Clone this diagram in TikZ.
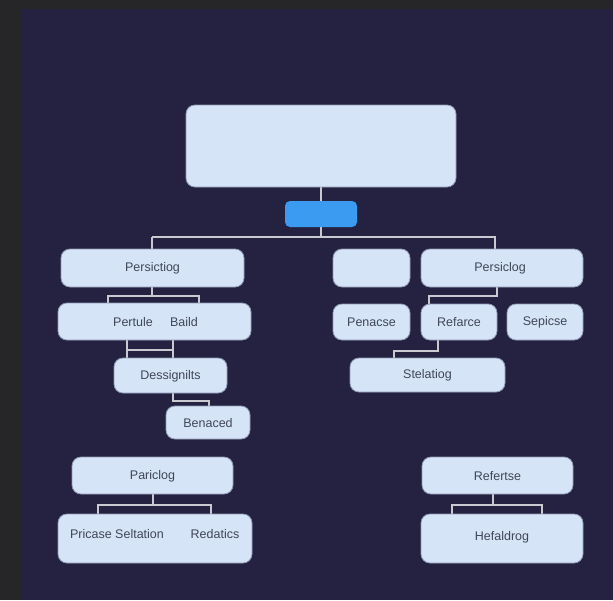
\documentclass[tikz,border=0pt]{standalone}
\usepackage{fontspec}
\setmainfont{Liberation Sans}
\definecolor{outerbg}{HTML}{262628}
\definecolor{panel}{HTML}{242240}
\definecolor{boxfill}{HTML}{D6E4F7}
\definecolor{boxedge}{HTML}{8E9AB4}
\definecolor{boxtext}{HTML}{3F4658}
\definecolor{linec}{HTML}{C9C9D2}
\definecolor{bluefill}{HTML}{3B9BF0}
\tikzset{
  card/.style={draw=boxedge, line width=0.8pt, fill=boxfill, rounded corners=9pt},
  bluecard/.style={fill=bluefill, rounded corners=5pt},
  lbl/.style={text=boxtext, font=\fontsize{12.5}{14}\selectfont, inner sep=0pt, anchor=center},
  conn/.style={draw=linec, line width=1.6pt}
}
\begin{document}
\begin{tikzpicture}[x=1pt,y=-1pt]
\useasboundingbox (0,0) rectangle (613,600);
\fill[outerbg] (0,0) rectangle (613,600);
\fill[panel] (22,9) rectangle (613,600);

% connectors first (behind boxes)
\coordinate (topb) at (321,187);
\coordinate (bluet) at (321,201);
\coordinate (blueb) at (321,227);
\coordinate (hbar) at (321,237);
\coordinate (hl) at (152,237);
\coordinate (hr) at (495,237);
\draw[conn] (topb) -- (bluet);
\draw[conn] (blueb) -- (hbar);
\draw[conn] (hl) -- (152,249);
\draw[conn] (hl) -- (hr) -- (495,249);

% left branch
\draw[conn] (152,287) -- (152,296);
\draw[conn] (108,303) -- (108,296) -- (199,296) -- (199,303);
\draw[conn] (127,340) -- (127,358);
\draw[conn] (173,340) -- (173,358);
\draw[conn] (127,350) -- (173,350);
\draw[conn] (173,393) -- (173,401) -- (209,401) -- (209,406);

% right branch
\draw[conn] (497,287) -- (497,296) -- (429,296) -- (429,304);
\draw[conn] (438,340) -- (438,351) -- (394,351) -- (394,358);

% bottom left
\draw[conn] (153,494) -- (153,505);
\draw[conn] (98,514) -- (98,505) -- (211,505) -- (211,514);

% bottom right
\draw[conn] (493,494) -- (493,505);
\draw[conn] (452,514) -- (452,505) -- (542,505) -- (542,514);

% boxes
\path[card] (186,105) rectangle (456,187);
\node[coordinate] (top) at (321,146) {};
\path[bluecard] (285,201) rectangle (357,227);
\node[coordinate] (blue) at (321,214) {};

\path[card] (61,249) rectangle (244,287);
\node[lbl] (pers1) at (152.5,268.5) {Persictiog};

\path[card] (58,303) rectangle (251,340);
\node[lbl] (pert) at (133,322.5) {Pertule};
\node[lbl] (baild) at (184,322.5) {Baild};

\path[card] (114,358) rectangle (227,393);
\node[lbl] (dess) at (170.5,376) {Dessignilts};

\path[card] (166,406) rectangle (250,439);
\node[lbl] (ben) at (208,423) {Benaced};

\path[card] (333,249) rectangle (410,287);
\node[coordinate] (empty) at (371.5,268) {};

\path[card] (421,249) rectangle (583,287);
\node[lbl] (pers2) at (500,268.5) {Persiclog};

\path[card] (333,304) rectangle (410,340);
\node[lbl] (pen) at (371.5,322.5) {Penacse};

\path[card] (421,304) rectangle (497,340);
\node[lbl] (ref) at (459,322.5) {Refarce};

\path[card] (507,304) rectangle (583,340);
\node[lbl] (sep) at (545,322.5) {Sepicse};

\path[card] (350,358) rectangle (505,392);
\node[lbl] (stel) at (427.5,375.5) {Stelatiog};

\path[card] (72,457) rectangle (233,494);
\node[lbl] (paric) at (152.5,476) {Pariclog};

\path[card] (58,514) rectangle (252,563);
\node[lbl] (pric) at (117,534.5) {Pricase Seltation};
\node[lbl] (red) at (215,534.5) {Redatics};

\path[card] (422,457) rectangle (573,494);
\node[lbl] (refse) at (497.5,476) {Refertse};

\path[card] (421,514) rectangle (583,563);
\node[lbl] (hef) at (502,537.5) {Hefaldrog};
\end{tikzpicture}
\end{document}
